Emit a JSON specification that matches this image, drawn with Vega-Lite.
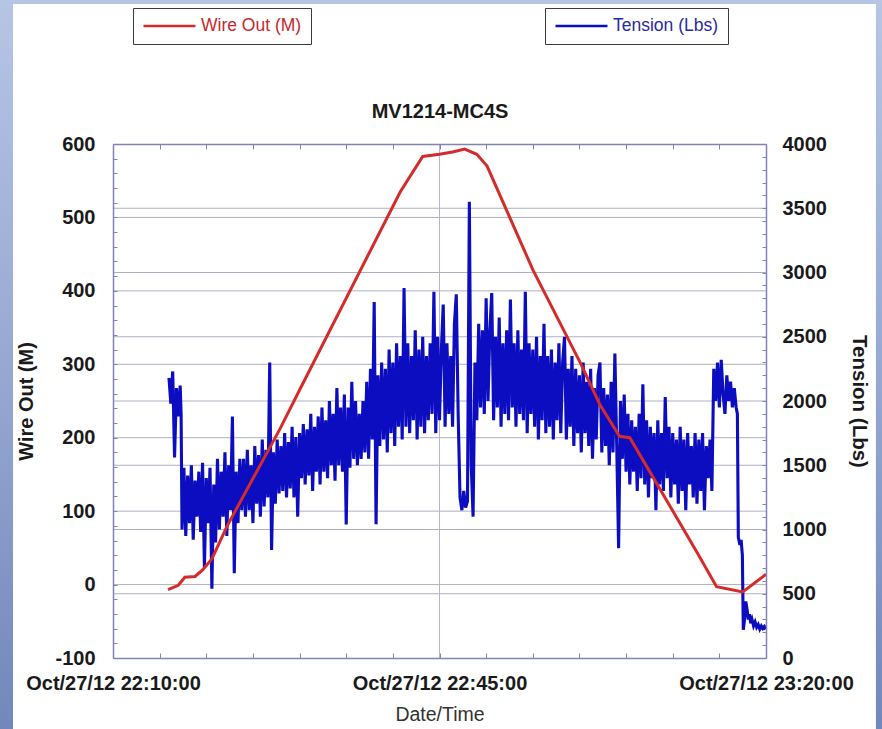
{
  "$schema": "https://vega.github.io/schema/vega-lite/v6.json",
  "width": 653,
  "height": 514,
  "autosize": {"type": "none"},
  "padding": {"left": 113, "top": 144, "right": 116, "bottom": 71},
  "background": "#ffffff",
  "config": {
    "view": {"stroke": null},
    "font": "Liberation Sans",
    "axis": {"zindex": 1, "grid": false, "domainColor": "#7f84b4", "domainWidth": 1.5, "tickColor": "#7f84b4", "tickWidth": 1, "labelFont": "Liberation Sans", "titleFont": "Liberation Sans", "labelFlush": false, "labelOverlap": false, "labelColor": "#1a1a1a", "titleColor": "#1a1a1a"}
  },
  "datasets": {
    "wire": [
      {"time": "2012-10-27 22:15:54", "m": -7},
      {"time": "2012-10-27 22:17:00", "m": -1},
      {"time": "2012-10-27 22:17:42", "m": 10},
      {"time": "2012-10-27 22:18:48", "m": 11},
      {"time": "2012-10-27 22:19:36", "m": 20},
      {"time": "2012-10-27 22:20:36", "m": 35},
      {"time": "2012-10-27 22:22:12", "m": 79},
      {"time": "2012-10-27 22:27:54", "m": 212},
      {"time": "2012-10-27 22:30:00", "m": 265},
      {"time": "2012-10-27 22:40:48", "m": 535},
      {"time": "2012-10-27 22:43:12", "m": 583},
      {"time": "2012-10-27 22:45:00", "m": 586},
      {"time": "2012-10-27 22:46:24", "m": 589},
      {"time": "2012-10-27 22:47:42", "m": 593},
      {"time": "2012-10-27 22:49:00", "m": 586},
      {"time": "2012-10-27 22:50:06", "m": 570},
      {"time": "2012-10-27 22:55:00", "m": 429},
      {"time": "2012-10-27 23:00:06", "m": 302},
      {"time": "2012-10-27 23:02:12", "m": 245},
      {"time": "2012-10-27 23:04:18", "m": 202},
      {"time": "2012-10-27 23:05:24", "m": 200},
      {"time": "2012-10-27 23:07:54", "m": 146},
      {"time": "2012-10-27 23:12:36", "m": 44},
      {"time": "2012-10-27 23:14:42", "m": -3},
      {"time": "2012-10-27 23:17:30", "m": -10},
      {"time": "2012-10-27 23:20:00", "m": 14}
    ],
    "tension": [
      {"time": "2012-10-27 22:16:00", "lbs": 2180},
      {"time": "2012-10-27 22:16:12", "lbs": 1980},
      {"time": "2012-10-27 22:16:24", "lbs": 2230},
      {"time": "2012-10-27 22:16:36", "lbs": 1560},
      {"time": "2012-10-27 22:16:48", "lbs": 2100},
      {"time": "2012-10-27 22:17:00", "lbs": 1880},
      {"time": "2012-10-27 22:17:12", "lbs": 2120},
      {"time": "2012-10-27 22:17:18", "lbs": 1900},
      {"time": "2012-10-27 22:17:24", "lbs": 1000},
      {"time": "2012-10-27 22:17:36", "lbs": 1480},
      {"time": "2012-10-27 22:17:48", "lbs": 950},
      {"time": "2012-10-27 22:18:00", "lbs": 1420},
      {"time": "2012-10-27 22:18:12", "lbs": 1050},
      {"time": "2012-10-27 22:18:24", "lbs": 1500},
      {"time": "2012-10-27 22:18:36", "lbs": 920},
      {"time": "2012-10-27 22:18:48", "lbs": 1380},
      {"time": "2012-10-27 22:19:00", "lbs": 1100},
      {"time": "2012-10-27 22:19:12", "lbs": 1450},
      {"time": "2012-10-27 22:19:24", "lbs": 980},
      {"time": "2012-10-27 22:19:36", "lbs": 1520},
      {"time": "2012-10-27 22:19:48", "lbs": 700},
      {"time": "2012-10-27 22:20:00", "lbs": 1400},
      {"time": "2012-10-27 22:20:12", "lbs": 1050},
      {"time": "2012-10-27 22:20:24", "lbs": 1480},
      {"time": "2012-10-27 22:20:36", "lbs": 540},
      {"time": "2012-10-27 22:20:48", "lbs": 1350},
      {"time": "2012-10-27 22:21:00", "lbs": 900},
      {"time": "2012-10-27 22:21:12", "lbs": 1550},
      {"time": "2012-10-27 22:21:24", "lbs": 1000},
      {"time": "2012-10-27 22:21:36", "lbs": 1450},
      {"time": "2012-10-27 22:21:48", "lbs": 1100},
      {"time": "2012-10-27 22:22:00", "lbs": 1600},
      {"time": "2012-10-27 22:22:12", "lbs": 950},
      {"time": "2012-10-27 22:22:24", "lbs": 1500},
      {"time": "2012-10-27 22:22:36", "lbs": 1150},
      {"time": "2012-10-27 22:22:48", "lbs": 1880},
      {"time": "2012-10-27 22:23:00", "lbs": 660},
      {"time": "2012-10-27 22:23:12", "lbs": 1450},
      {"time": "2012-10-27 22:23:24", "lbs": 1050},
      {"time": "2012-10-27 22:23:36", "lbs": 1550},
      {"time": "2012-10-27 22:23:48", "lbs": 1150},
      {"time": "2012-10-27 22:24:00", "lbs": 1550},
      {"time": "2012-10-27 22:24:12", "lbs": 1100},
      {"time": "2012-10-27 22:24:24", "lbs": 1620},
      {"time": "2012-10-27 22:24:36", "lbs": 1150},
      {"time": "2012-10-27 22:24:48", "lbs": 1500},
      {"time": "2012-10-27 22:25:00", "lbs": 1050},
      {"time": "2012-10-27 22:25:12", "lbs": 1650},
      {"time": "2012-10-27 22:25:24", "lbs": 1200},
      {"time": "2012-10-27 22:25:36", "lbs": 1580},
      {"time": "2012-10-27 22:25:48", "lbs": 1100},
      {"time": "2012-10-27 22:26:00", "lbs": 1700},
      {"time": "2012-10-27 22:26:12", "lbs": 1180},
      {"time": "2012-10-27 22:26:24", "lbs": 1620},
      {"time": "2012-10-27 22:26:36", "lbs": 1250},
      {"time": "2012-10-27 22:26:48", "lbs": 2300},
      {"time": "2012-10-27 22:27:00", "lbs": 840},
      {"time": "2012-10-27 22:27:12", "lbs": 1600},
      {"time": "2012-10-27 22:27:24", "lbs": 1200},
      {"time": "2012-10-27 22:27:36", "lbs": 1700},
      {"time": "2012-10-27 22:27:48", "lbs": 1280},
      {"time": "2012-10-27 22:28:00", "lbs": 1650},
      {"time": "2012-10-27 22:28:12", "lbs": 1300},
      {"time": "2012-10-27 22:28:24", "lbs": 1750},
      {"time": "2012-10-27 22:28:36", "lbs": 1250},
      {"time": "2012-10-27 22:28:48", "lbs": 1680},
      {"time": "2012-10-27 22:29:00", "lbs": 1320},
      {"time": "2012-10-27 22:29:12", "lbs": 1800},
      {"time": "2012-10-27 22:29:24", "lbs": 1250},
      {"time": "2012-10-27 22:29:36", "lbs": 1720},
      {"time": "2012-10-27 22:29:48", "lbs": 1100},
      {"time": "2012-10-27 22:30:00", "lbs": 1750},
      {"time": "2012-10-27 22:30:12", "lbs": 1400},
      {"time": "2012-10-27 22:30:24", "lbs": 1820},
      {"time": "2012-10-27 22:30:36", "lbs": 1350},
      {"time": "2012-10-27 22:30:48", "lbs": 1780},
      {"time": "2012-10-27 22:31:00", "lbs": 1420},
      {"time": "2012-10-27 22:31:12", "lbs": 1900},
      {"time": "2012-10-27 22:31:24", "lbs": 1300},
      {"time": "2012-10-27 22:31:36", "lbs": 1800},
      {"time": "2012-10-27 22:31:48", "lbs": 1450},
      {"time": "2012-10-27 22:32:00", "lbs": 1880},
      {"time": "2012-10-27 22:32:12", "lbs": 1350},
      {"time": "2012-10-27 22:32:24", "lbs": 1950},
      {"time": "2012-10-27 22:32:36", "lbs": 1450},
      {"time": "2012-10-27 22:32:48", "lbs": 1850},
      {"time": "2012-10-27 22:33:00", "lbs": 1400},
      {"time": "2012-10-27 22:33:12", "lbs": 2000},
      {"time": "2012-10-27 22:33:24", "lbs": 1500},
      {"time": "2012-10-27 22:33:36", "lbs": 1900},
      {"time": "2012-10-27 22:33:48", "lbs": 1380},
      {"time": "2012-10-27 22:34:00", "lbs": 2100},
      {"time": "2012-10-27 22:34:12", "lbs": 1500},
      {"time": "2012-10-27 22:34:24", "lbs": 1950},
      {"time": "2012-10-27 22:34:36", "lbs": 1450},
      {"time": "2012-10-27 22:34:48", "lbs": 2050},
      {"time": "2012-10-27 22:35:00", "lbs": 1040},
      {"time": "2012-10-27 22:35:12", "lbs": 1950},
      {"time": "2012-10-27 22:35:24", "lbs": 1480},
      {"time": "2012-10-27 22:35:36", "lbs": 2150},
      {"time": "2012-10-27 22:35:48", "lbs": 1550},
      {"time": "2012-10-27 22:36:00", "lbs": 2000},
      {"time": "2012-10-27 22:36:12", "lbs": 1500},
      {"time": "2012-10-27 22:36:24", "lbs": 1900},
      {"time": "2012-10-27 22:36:36", "lbs": 1550},
      {"time": "2012-10-27 22:36:48", "lbs": 2000},
      {"time": "2012-10-27 22:37:00", "lbs": 1600},
      {"time": "2012-10-27 22:37:12", "lbs": 2150},
      {"time": "2012-10-27 22:37:24", "lbs": 1550},
      {"time": "2012-10-27 22:37:36", "lbs": 2250},
      {"time": "2012-10-27 22:37:48", "lbs": 1700},
      {"time": "2012-10-27 22:38:00", "lbs": 2770},
      {"time": "2012-10-27 22:38:12", "lbs": 1040},
      {"time": "2012-10-27 22:38:24", "lbs": 2200},
      {"time": "2012-10-27 22:38:36", "lbs": 1650},
      {"time": "2012-10-27 22:38:48", "lbs": 2300},
      {"time": "2012-10-27 22:39:00", "lbs": 1700},
      {"time": "2012-10-27 22:39:12", "lbs": 2250},
      {"time": "2012-10-27 22:39:24", "lbs": 1600},
      {"time": "2012-10-27 22:39:36", "lbs": 2400},
      {"time": "2012-10-27 22:39:48", "lbs": 1750},
      {"time": "2012-10-27 22:40:00", "lbs": 2300},
      {"time": "2012-10-27 22:40:12", "lbs": 1650},
      {"time": "2012-10-27 22:40:24", "lbs": 2450},
      {"time": "2012-10-27 22:40:36", "lbs": 1800},
      {"time": "2012-10-27 22:40:48", "lbs": 2350},
      {"time": "2012-10-27 22:41:00", "lbs": 1700},
      {"time": "2012-10-27 22:41:12", "lbs": 2880},
      {"time": "2012-10-27 22:41:24", "lbs": 1800},
      {"time": "2012-10-27 22:41:36", "lbs": 2450},
      {"time": "2012-10-27 22:41:48", "lbs": 1750},
      {"time": "2012-10-27 22:42:00", "lbs": 2350},
      {"time": "2012-10-27 22:42:12", "lbs": 1850},
      {"time": "2012-10-27 22:42:24", "lbs": 2550},
      {"time": "2012-10-27 22:42:36", "lbs": 1700},
      {"time": "2012-10-27 22:42:48", "lbs": 2400},
      {"time": "2012-10-27 22:43:00", "lbs": 1800},
      {"time": "2012-10-27 22:43:12", "lbs": 2500},
      {"time": "2012-10-27 22:43:24", "lbs": 1750},
      {"time": "2012-10-27 22:43:36", "lbs": 2350},
      {"time": "2012-10-27 22:43:48", "lbs": 1850},
      {"time": "2012-10-27 22:44:00", "lbs": 2450},
      {"time": "2012-10-27 22:44:12", "lbs": 1900},
      {"time": "2012-10-27 22:44:24", "lbs": 2850},
      {"time": "2012-10-27 22:44:36", "lbs": 1750},
      {"time": "2012-10-27 22:44:48", "lbs": 2500},
      {"time": "2012-10-27 22:45:00", "lbs": 1850},
      {"time": "2012-10-27 22:45:12", "lbs": 2400},
      {"time": "2012-10-27 22:45:24", "lbs": 2750},
      {"time": "2012-10-27 22:45:36", "lbs": 1800},
      {"time": "2012-10-27 22:45:48", "lbs": 2450},
      {"time": "2012-10-27 22:46:00", "lbs": 1900},
      {"time": "2012-10-27 22:46:12", "lbs": 2350},
      {"time": "2012-10-27 22:46:24", "lbs": 1800},
      {"time": "2012-10-27 22:46:36", "lbs": 2600},
      {"time": "2012-10-27 22:46:48", "lbs": 2830},
      {"time": "2012-10-27 22:47:00", "lbs": 1900},
      {"time": "2012-10-27 22:47:12", "lbs": 1250},
      {"time": "2012-10-27 22:47:24", "lbs": 1150},
      {"time": "2012-10-27 22:47:36", "lbs": 1300},
      {"time": "2012-10-27 22:47:48", "lbs": 1170},
      {"time": "2012-10-27 22:48:00", "lbs": 1220},
      {"time": "2012-10-27 22:48:12", "lbs": 3550},
      {"time": "2012-10-27 22:48:24", "lbs": 1500},
      {"time": "2012-10-27 22:48:36", "lbs": 1100},
      {"time": "2012-10-27 22:48:48", "lbs": 2300},
      {"time": "2012-10-27 22:49:00", "lbs": 1850},
      {"time": "2012-10-27 22:49:12", "lbs": 2600},
      {"time": "2012-10-27 22:49:24", "lbs": 1950},
      {"time": "2012-10-27 22:49:36", "lbs": 2550},
      {"time": "2012-10-27 22:49:48", "lbs": 1900},
      {"time": "2012-10-27 22:50:00", "lbs": 2800},
      {"time": "2012-10-27 22:50:12", "lbs": 2000},
      {"time": "2012-10-27 22:50:24", "lbs": 2550},
      {"time": "2012-10-27 22:50:36", "lbs": 2840},
      {"time": "2012-10-27 22:50:48", "lbs": 1850},
      {"time": "2012-10-27 22:51:00", "lbs": 2500},
      {"time": "2012-10-27 22:51:12", "lbs": 1950},
      {"time": "2012-10-27 22:51:24", "lbs": 2650},
      {"time": "2012-10-27 22:51:36", "lbs": 1800},
      {"time": "2012-10-27 22:51:48", "lbs": 2450},
      {"time": "2012-10-27 22:52:00", "lbs": 1900},
      {"time": "2012-10-27 22:52:12", "lbs": 2550},
      {"time": "2012-10-27 22:52:24", "lbs": 1850},
      {"time": "2012-10-27 22:52:36", "lbs": 2790},
      {"time": "2012-10-27 22:52:48", "lbs": 1950},
      {"time": "2012-10-27 22:53:00", "lbs": 2450},
      {"time": "2012-10-27 22:53:12", "lbs": 1800},
      {"time": "2012-10-27 22:53:24", "lbs": 2550},
      {"time": "2012-10-27 22:53:36", "lbs": 1900},
      {"time": "2012-10-27 22:53:48", "lbs": 2400},
      {"time": "2012-10-27 22:54:00", "lbs": 1850},
      {"time": "2012-10-27 22:54:12", "lbs": 2850},
      {"time": "2012-10-27 22:54:24", "lbs": 1750},
      {"time": "2012-10-27 22:54:36", "lbs": 2450},
      {"time": "2012-10-27 22:54:48", "lbs": 1900},
      {"time": "2012-10-27 22:55:00", "lbs": 2400},
      {"time": "2012-10-27 22:55:12", "lbs": 1800},
      {"time": "2012-10-27 22:55:24", "lbs": 2500},
      {"time": "2012-10-27 22:55:36", "lbs": 1700},
      {"time": "2012-10-27 22:55:48", "lbs": 2350},
      {"time": "2012-10-27 22:56:00", "lbs": 1850},
      {"time": "2012-10-27 22:56:12", "lbs": 2600},
      {"time": "2012-10-27 22:56:24", "lbs": 1750},
      {"time": "2012-10-27 22:56:36", "lbs": 2350},
      {"time": "2012-10-27 22:56:48", "lbs": 1800},
      {"time": "2012-10-27 22:57:00", "lbs": 2400},
      {"time": "2012-10-27 22:57:12", "lbs": 1700},
      {"time": "2012-10-27 22:57:24", "lbs": 2300},
      {"time": "2012-10-27 22:57:36", "lbs": 1850},
      {"time": "2012-10-27 22:57:48", "lbs": 2450},
      {"time": "2012-10-27 22:58:00", "lbs": 1750},
      {"time": "2012-10-27 22:58:12", "lbs": 2300},
      {"time": "2012-10-27 22:58:24", "lbs": 2500},
      {"time": "2012-10-27 22:58:36", "lbs": 1700},
      {"time": "2012-10-27 22:58:48", "lbs": 2250},
      {"time": "2012-10-27 22:59:00", "lbs": 1800},
      {"time": "2012-10-27 22:59:12", "lbs": 2350},
      {"time": "2012-10-27 22:59:24", "lbs": 1650},
      {"time": "2012-10-27 22:59:36", "lbs": 2250},
      {"time": "2012-10-27 22:59:48", "lbs": 1750},
      {"time": "2012-10-27 23:00:00", "lbs": 2200},
      {"time": "2012-10-27 23:00:12", "lbs": 1600},
      {"time": "2012-10-27 23:00:24", "lbs": 2300},
      {"time": "2012-10-27 23:00:36", "lbs": 1750},
      {"time": "2012-10-27 23:00:48", "lbs": 2150},
      {"time": "2012-10-27 23:01:00", "lbs": 1650},
      {"time": "2012-10-27 23:01:12", "lbs": 2250},
      {"time": "2012-10-27 23:01:24", "lbs": 1550},
      {"time": "2012-10-27 23:01:36", "lbs": 2100},
      {"time": "2012-10-27 23:01:48", "lbs": 1700},
      {"time": "2012-10-27 23:02:00", "lbs": 2200},
      {"time": "2012-10-27 23:02:12", "lbs": 2300},
      {"time": "2012-10-27 23:02:24", "lbs": 1600},
      {"time": "2012-10-27 23:02:36", "lbs": 2100},
      {"time": "2012-10-27 23:02:48", "lbs": 1650},
      {"time": "2012-10-27 23:03:00", "lbs": 2050},
      {"time": "2012-10-27 23:03:12", "lbs": 1500},
      {"time": "2012-10-27 23:03:24", "lbs": 2150},
      {"time": "2012-10-27 23:03:36", "lbs": 1600},
      {"time": "2012-10-27 23:03:48", "lbs": 2370},
      {"time": "2012-10-27 23:04:00", "lbs": 1650},
      {"time": "2012-10-27 23:04:12", "lbs": 855},
      {"time": "2012-10-27 23:04:24", "lbs": 2000},
      {"time": "2012-10-27 23:04:36", "lbs": 1550},
      {"time": "2012-10-27 23:04:48", "lbs": 2050},
      {"time": "2012-10-27 23:05:00", "lbs": 1450},
      {"time": "2012-10-27 23:05:12", "lbs": 1900},
      {"time": "2012-10-27 23:05:24", "lbs": 1350},
      {"time": "2012-10-27 23:05:36", "lbs": 1850},
      {"time": "2012-10-27 23:05:48", "lbs": 1450},
      {"time": "2012-10-27 23:06:00", "lbs": 1800},
      {"time": "2012-10-27 23:06:12", "lbs": 1300},
      {"time": "2012-10-27 23:06:24", "lbs": 1900},
      {"time": "2012-10-27 23:06:36", "lbs": 1400},
      {"time": "2012-10-27 23:06:48", "lbs": 2130},
      {"time": "2012-10-27 23:07:00", "lbs": 1350},
      {"time": "2012-10-27 23:07:12", "lbs": 1850},
      {"time": "2012-10-27 23:07:24", "lbs": 1250},
      {"time": "2012-10-27 23:07:36", "lbs": 1800},
      {"time": "2012-10-27 23:07:48", "lbs": 1400},
      {"time": "2012-10-27 23:08:00", "lbs": 1750},
      {"time": "2012-10-27 23:08:12", "lbs": 1150},
      {"time": "2012-10-27 23:08:24", "lbs": 1850},
      {"time": "2012-10-27 23:08:36", "lbs": 1350},
      {"time": "2012-10-27 23:08:48", "lbs": 1750},
      {"time": "2012-10-27 23:09:00", "lbs": 1300},
      {"time": "2012-10-27 23:09:12", "lbs": 2030},
      {"time": "2012-10-27 23:09:24", "lbs": 1400},
      {"time": "2012-10-27 23:09:36", "lbs": 1800},
      {"time": "2012-10-27 23:09:48", "lbs": 1250},
      {"time": "2012-10-27 23:10:00", "lbs": 1750},
      {"time": "2012-10-27 23:10:12", "lbs": 1350},
      {"time": "2012-10-27 23:10:24", "lbs": 1700},
      {"time": "2012-10-27 23:10:36", "lbs": 1200},
      {"time": "2012-10-27 23:10:48", "lbs": 1800},
      {"time": "2012-10-27 23:11:00", "lbs": 1300},
      {"time": "2012-10-27 23:11:12", "lbs": 1700},
      {"time": "2012-10-27 23:11:24", "lbs": 1150},
      {"time": "2012-10-27 23:11:36", "lbs": 1750},
      {"time": "2012-10-27 23:11:48", "lbs": 1350},
      {"time": "2012-10-27 23:12:00", "lbs": 1650},
      {"time": "2012-10-27 23:12:12", "lbs": 1250},
      {"time": "2012-10-27 23:12:24", "lbs": 1750},
      {"time": "2012-10-27 23:12:36", "lbs": 1200},
      {"time": "2012-10-27 23:12:48", "lbs": 1700},
      {"time": "2012-10-27 23:13:00", "lbs": 1300},
      {"time": "2012-10-27 23:13:12", "lbs": 1750},
      {"time": "2012-10-27 23:13:24", "lbs": 1150},
      {"time": "2012-10-27 23:13:36", "lbs": 1650},
      {"time": "2012-10-27 23:13:48", "lbs": 1400},
      {"time": "2012-10-27 23:14:00", "lbs": 1700},
      {"time": "2012-10-27 23:14:12", "lbs": 1300},
      {"time": "2012-10-27 23:14:24", "lbs": 2250},
      {"time": "2012-10-27 23:14:36", "lbs": 2000},
      {"time": "2012-10-27 23:14:48", "lbs": 2300},
      {"time": "2012-10-27 23:15:00", "lbs": 1950},
      {"time": "2012-10-27 23:15:12", "lbs": 2320},
      {"time": "2012-10-27 23:15:24", "lbs": 2050},
      {"time": "2012-10-27 23:15:36", "lbs": 1900},
      {"time": "2012-10-27 23:15:48", "lbs": 2200},
      {"time": "2012-10-27 23:16:00", "lbs": 2000},
      {"time": "2012-10-27 23:16:12", "lbs": 2150},
      {"time": "2012-10-27 23:16:24", "lbs": 1950},
      {"time": "2012-10-27 23:16:36", "lbs": 2100},
      {"time": "2012-10-27 23:16:48", "lbs": 1950},
      {"time": "2012-10-27 23:16:56", "lbs": 1900},
      {"time": "2012-10-27 23:17:02", "lbs": 940},
      {"time": "2012-10-27 23:17:12", "lbs": 880},
      {"time": "2012-10-27 23:17:20", "lbs": 920},
      {"time": "2012-10-27 23:17:28", "lbs": 800},
      {"time": "2012-10-27 23:17:34", "lbs": 220},
      {"time": "2012-10-27 23:17:42", "lbs": 300},
      {"time": "2012-10-27 23:17:50", "lbs": 440},
      {"time": "2012-10-27 23:17:58", "lbs": 380},
      {"time": "2012-10-27 23:18:06", "lbs": 300},
      {"time": "2012-10-27 23:18:14", "lbs": 340},
      {"time": "2012-10-27 23:18:22", "lbs": 270},
      {"time": "2012-10-27 23:18:30", "lbs": 300},
      {"time": "2012-10-27 23:18:40", "lbs": 250},
      {"time": "2012-10-27 23:18:50", "lbs": 280},
      {"time": "2012-10-27 23:19:00", "lbs": 240},
      {"time": "2012-10-27 23:19:10", "lbs": 260},
      {"time": "2012-10-27 23:19:20", "lbs": 225},
      {"time": "2012-10-27 23:19:30", "lbs": 250},
      {"time": "2012-10-27 23:19:40", "lbs": 230},
      {"time": "2012-10-27 23:19:50", "lbs": 245},
      {"time": "2012-10-27 23:20:00", "lbs": 225}
    ]
  },
  "layer": [
    {
      "data": {"values": [{}]},
      "mark": {"type": "rect", "fill": {"gradient": "linear", "x1": 0, "y1": 0, "x2": 0, "y2": 1, "stops": [{"offset": 0, "color": "#bccae6"}, {"offset": 0.5, "color": "#95a8d2"}, {"offset": 1, "color": "#6980b6"}]}},
      "encoding": {
        "x": {"datum": {"year": 2012, "month": 10, "date": 27, "hours": 21, "minutes": 40}, "type": "temporal", "scale": {"domain": [{"year": 2012, "month": 10, "date": 27, "hours": 22, "minutes": 10}, {"year": 2012, "month": 10, "date": 27, "hours": 23, "minutes": 20}], "nice": false}, "axis": null},
        "x2": {"datum": {"year": 2012, "month": 10, "date": 27, "hours": 23, "minutes": 50}},
        "y": {"datum": -0.3, "type": "quantitative", "scale": {"domain": [0, 1], "nice": false, "zero": false}, "axis": null},
        "y2": {"datum": 1.4}
      }
    },
    {
      "data": {"values": [{}]},
      "mark": {"type": "rect", "fill": "#ffffff"},
      "encoding": {
        "x": {"datum": {"year": 2012, "month": 10, "date": 27, "hours": 21, "minutes": 59, "seconds": 17}, "type": "temporal", "scale": {"domain": [{"year": 2012, "month": 10, "date": 27, "hours": 22, "minutes": 10}, {"year": 2012, "month": 10, "date": 27, "hours": 23, "minutes": 20}], "nice": false}, "axis": null},
        "x2": {"datum": {"year": 2012, "month": 10, "date": 27, "hours": 23, "minutes": 31, "seconds": 47}},
        "y": {"datum": -0.3, "type": "quantitative", "scale": {"domain": [0, 1], "nice": false, "zero": false}, "axis": null},
        "y2": {"datum": 1.2724}
      }
    },
    {
      "data": {"values": [{"w": 0}, {"w": 100}, {"w": 200}, {"w": 300}, {"w": 400}, {"w": 500}]},
      "mark": {"type": "rule", "color": "#aeb0c2", "strokeWidth": 1},
      "encoding": {
        "y": {"field": "w", "type": "quantitative", "scale": {"domain": [-100, 600], "nice": false, "zero": false}, "axis": null}
      }
    },
    {
      "data": {"values": [{"t": 500}, {"t": 1000}, {"t": 1500}, {"t": 2000}, {"t": 2500}, {"t": 3000}, {"t": 3500}]},
      "mark": {"type": "rule", "color": "#aeb0c2", "strokeWidth": 1},
      "encoding": {
        "y": {"field": "t", "type": "quantitative", "scale": {"domain": [0, 4000], "nice": false, "zero": false}, "axis": null}
      }
    },
    {
      "data": {"values": [{}]},
      "mark": {"type": "rule", "color": "#b4b6cc", "strokeWidth": 1},
      "encoding": {
        "x": {"datum": {"year": 2012, "month": 10, "date": 27, "hours": 22, "minutes": 45}, "type": "temporal", "scale": {"domain": [{"year": 2012, "month": 10, "date": 27, "hours": 22, "minutes": 10}, {"year": 2012, "month": 10, "date": 27, "hours": 23, "minutes": 20}], "nice": false}, "axis": null}
      }
    },
    {
      "data": {"name": "tension"},
      "mark": {"type": "line", "strokeWidth": 3.1},
      "encoding": {
        "x": {"field": "time", "type": "temporal", "scale": {"domain": [{"year": 2012, "month": 10, "date": 27, "hours": 22, "minutes": 10}, {"year": 2012, "month": 10, "date": 27, "hours": 23, "minutes": 20}], "nice": false},
          "axis": {"orient": "top", "zindex": 1, "values": [
            {"year": 2012, "month": 10, "date": 27, "hours": 22, "minutes": 10},
            {"year": 2012, "month": 10, "date": 27, "hours": 22, "minutes": 15},
            {"year": 2012, "month": 10, "date": 27, "hours": 22, "minutes": 20},
            {"year": 2012, "month": 10, "date": 27, "hours": 22, "minutes": 25},
            {"year": 2012, "month": 10, "date": 27, "hours": 22, "minutes": 30},
            {"year": 2012, "month": 10, "date": 27, "hours": 22, "minutes": 35},
            {"year": 2012, "month": 10, "date": 27, "hours": 22, "minutes": 40},
            {"year": 2012, "month": 10, "date": 27, "hours": 22, "minutes": 45},
            {"year": 2012, "month": 10, "date": 27, "hours": 22, "minutes": 50},
            {"year": 2012, "month": 10, "date": 27, "hours": 22, "minutes": 55},
            {"year": 2012, "month": 10, "date": 27, "hours": 23, "minutes": 0},
            {"year": 2012, "month": 10, "date": 27, "hours": 23, "minutes": 5},
            {"year": 2012, "month": 10, "date": 27, "hours": 23, "minutes": 10},
            {"year": 2012, "month": 10, "date": 27, "hours": 23, "minutes": 15},
            {"year": 2012, "month": 10, "date": 27, "hours": 23, "minutes": 20}
          ], "labels": false, "tickSize": -5,
            "title": "MV1214-MC4S", "titleFontSize": 20, "titleFontWeight": "bold", "titleColor": "#1a1a1a", "titlePadding": 22}},
        "y": {"field": "lbs", "type": "quantitative", "scale": {"domain": [0, 4000], "nice": false, "zero": false},
          "axis": {"orient": "right", "zindex": 1, "values": [0, 100, 200, 300, 400, 500, 600, 700, 800, 900, 1000, 1100, 1200, 1300, 1400, 1500, 1600, 1700, 1800, 1900, 2000, 2100, 2200, 2300, 2400, 2500, 2600, 2700, 2800, 2900, 3000, 3100, 3200, 3300, 3400, 3500, 3600, 3700, 3800, 3900, 4000],
            "labelExpr": "datum.value % 500 === 0 ? '' + datum.value : ''", "labelFontSize": 20, "labelFontWeight": "bold", "tickSize": -4, "labelPadding": 20,
            "title": "Tension (Lbs)", "titleFontSize": 20.5, "titleFontWeight": "bold", "titlePadding": 22}},
        "stroke": {"datum": "Tension (Lbs)", "type": "nominal", "scale": {"range": ["#0c0cc0"]},
          "legend": {"orient": "none", "legendX": 432, "legendY": -136, "title": null, "symbolType": "stroke", "symbolSize": 2704, "symbolStrokeWidth": 2.5, "clipHeight": 18, "labelFont": "Liberation Sans", "labelFontSize": 17.5, "labelColor": "#2a2aa0", "labelOffset": 4, "padding": 9, "strokeColor": "#3c3c3c", "fillColor": "#ffffff"}}
      }
    },
    {
      "data": {"name": "wire"},
      "mark": {"type": "line", "strokeWidth": 3},
      "encoding": {
        "x": {"field": "time", "type": "temporal", "scale": {"domain": [{"year": 2012, "month": 10, "date": 27, "hours": 22, "minutes": 10}, {"year": 2012, "month": 10, "date": 27, "hours": 23, "minutes": 20}], "nice": false},
          "axis": {"orient": "bottom", "zindex": 1, "values": [
            {"year": 2012, "month": 10, "date": 27, "hours": 22, "minutes": 10},
            {"year": 2012, "month": 10, "date": 27, "hours": 22, "minutes": 15},
            {"year": 2012, "month": 10, "date": 27, "hours": 22, "minutes": 20},
            {"year": 2012, "month": 10, "date": 27, "hours": 22, "minutes": 25},
            {"year": 2012, "month": 10, "date": 27, "hours": 22, "minutes": 30},
            {"year": 2012, "month": 10, "date": 27, "hours": 22, "minutes": 35},
            {"year": 2012, "month": 10, "date": 27, "hours": 22, "minutes": 40},
            {"year": 2012, "month": 10, "date": 27, "hours": 22, "minutes": 45},
            {"year": 2012, "month": 10, "date": 27, "hours": 22, "minutes": 50},
            {"year": 2012, "month": 10, "date": 27, "hours": 22, "minutes": 55},
            {"year": 2012, "month": 10, "date": 27, "hours": 23, "minutes": 0},
            {"year": 2012, "month": 10, "date": 27, "hours": 23, "minutes": 5},
            {"year": 2012, "month": 10, "date": 27, "hours": 23, "minutes": 10},
            {"year": 2012, "month": 10, "date": 27, "hours": 23, "minutes": 15},
            {"year": 2012, "month": 10, "date": 27, "hours": 23, "minutes": 20}
          ], "format": "%b/%d/%y %H:%M:%S", "formatType": "time",
            "labelExpr": "(hours(datum.value) * 60 + minutes(datum.value) - 1330) % 35 === 0 ? datum.label : ''",
            "labelFontSize": 20, "labelFontWeight": "bold", "tickSize": -5, "labelPadding": 20,
            "title": "Date/Time", "titleFontSize": 19.5, "titleFontWeight": "normal", "titleColor": "#333333", "titlePadding": 12}},
        "y": {"field": "m", "type": "quantitative", "scale": {"domain": [-100, 600], "nice": false, "zero": false},
          "axis": {"orient": "left", "zindex": 1, "values": [-100, -80, -60, -40, -20, 0, 20, 40, 60, 80, 100, 120, 140, 160, 180, 200, 220, 240, 260, 280, 300, 320, 340, 360, 380, 400, 420, 440, 460, 480, 500, 520, 540, 560, 580, 600],
            "labelExpr": "datum.value % 100 === 0 ? '' + datum.value : ''", "labelFontSize": 20, "labelFontWeight": "bold", "tickSize": -4, "labelPadding": 22,
            "title": "Wire Out (M)", "titleFontSize": 20, "titleFontWeight": "bold", "titlePadding": 18}},
        "stroke": {"datum": "Wire Out (M)", "type": "nominal", "scale": {"range": ["#d42b2b"]},
          "legend": {"orient": "none", "legendX": 20, "legendY": -136, "title": null, "symbolType": "stroke", "symbolSize": 2704, "symbolStrokeWidth": 2.5, "clipHeight": 18, "labelFont": "Liberation Sans", "labelFontSize": 17.5, "labelColor": "#c8282c", "labelOffset": 4, "padding": 9, "strokeColor": "#3c3c3c", "fillColor": "#ffffff"}}
      }
    }
  ],
  "resolve": {"scale": {"y": "independent", "stroke": "independent"}, "axis": {"x": "independent", "y": "independent"}, "legend": {"stroke": "independent"}}
}
